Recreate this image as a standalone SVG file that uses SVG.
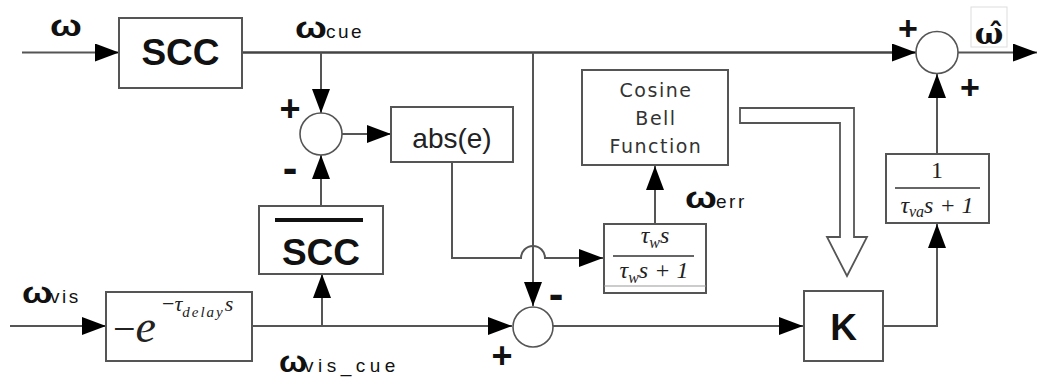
<svg xmlns="http://www.w3.org/2000/svg" width="1037" height="379" viewBox="0 0 1037 379">
<defs>
<marker id="ah" markerUnits="userSpaceOnUse" markerWidth="24" markerHeight="18" refX="24" refY="9" orient="auto">
<path d="M0,0 L24,9 L0,18 Z" fill="#000"/>
</marker>
</defs>
<style>
.box{fill:#fff;stroke:#555;stroke-width:2}
.ln{fill:none;stroke:#555;stroke-width:2}
.main{fill:none;stroke:#444;stroke-width:2.6}
.sum{fill:#fff;stroke:#555;stroke-width:1.6}
.big{font-family:"Liberation Sans",Arial,sans-serif;font-weight:bold;font-size:37px;fill:#111}
.om{font-family:"Liberation Sans",Arial,sans-serif;font-weight:bold;font-size:29px;fill:#111}
.sub{font-family:"Liberation Sans",Arial,sans-serif;font-size:19px;fill:#111;letter-spacing:2.5px}
.sg{font-family:"Liberation Sans",Arial,sans-serif;font-weight:bold;fill:#111;text-anchor:middle}
.math{font-family:"Liberation Serif","Times New Roman",serif;font-style:italic;fill:#222}
.mr{font-family:"Liberation Serif","Times New Roman",serif;fill:#222}
.cb{font-family:"DejaVu Sans",Verdana,sans-serif;font-size:19px;fill:#333;text-anchor:middle;letter-spacing:1.5px}
</style>

<g id="connectors">
<line class="ln" x1="22" y1="52.5" x2="119" y2="52.5" marker-end="url(#ah)"/>
<line class="main" x1="242" y1="52.5" x2="916" y2="52.5" marker-end="url(#ah)"/>
<line class="ln" x1="958" y1="52.5" x2="1037" y2="52.5" marker-end="url(#ah)"/>
<line class="ln" x1="321" y1="52.5" x2="321" y2="113" marker-end="url(#ah)"/>
<line class="ln" x1="321" y1="206" x2="321" y2="155" marker-end="url(#ah)"/>
<line class="ln" x1="342" y1="134" x2="391" y2="134" marker-end="url(#ah)"/>
<line class="ln" x1="10" y1="326" x2="106" y2="326" marker-end="url(#ah)"/>
<line class="ln" x1="252" y1="326" x2="512" y2="326" marker-end="url(#ah)"/>
<line class="ln" x1="322" y1="326" x2="322" y2="274" marker-end="url(#ah)"/>
<line class="ln" x1="533" y1="52.5" x2="533" y2="306" marker-end="url(#ah)"/>
<path class="ln" d="M452,162 V258 H521 A12,12 0 0 1 545,258 H603" marker-end="url(#ah)"/>
<line class="ln" x1="655" y1="224" x2="655" y2="166" marker-end="url(#ah)"/>
<line class="ln" x1="553" y1="326" x2="803" y2="326" marker-end="url(#ah)"/>
<path class="ln" d="M883,326 H937 V224" marker-end="url(#ah)"/>
<line class="ln" x1="937" y1="154" x2="937" y2="74" marker-end="url(#ah)"/>
<path d="M740,108 H854 V237 H867 L847,276 L827,237 H840 V123 H740 Z" fill="#fff" stroke="#555" stroke-width="1.8"/>
</g>

<g id="scc">
<rect class="box" x="119" y="18" width="123" height="70"/>
<text class="big" x="180.5" y="65" text-anchor="middle">SCC</text>
</g>

<g id="sum1">
<circle class="sum" cx="321" cy="134" r="21"/>
<text class="sg" x="290" y="121" font-size="36">+</text>
<text class="sg" x="290" y="183" font-size="44">-</text>
</g>

<g id="abs">
<rect class="box" x="391" y="107" width="122" height="55"/>
<text x="452" y="148" text-anchor="middle" font-family="'Liberation Sans',Arial,sans-serif" font-size="28" fill="#222">abs(e)</text>
</g>

<g id="sccbar">
<rect class="box" x="259" y="206" width="124" height="68"/>
<line x1="275" y1="220" x2="363" y2="220" stroke="#111" stroke-width="4"/>
<text class="big" x="321" y="265" text-anchor="middle">SCC</text>
</g>

<g id="delay">
<rect class="box" x="106" y="292" width="146" height="69"/>
<text class="mr" x="113" y="342" font-size="40">−<tspan class="math" font-size="46">e</tspan></text>
<text class="mr" x="162" y="311" font-size="22">−<tspan class="math">τ</tspan><tspan class="math" font-size="15" style="letter-spacing:2px" dy="6">delay</tspan><tspan class="math" dy="-6">s</tspan></text>
</g>

<g id="sum2">
<circle class="sum" cx="533" cy="327" r="20"/>
<text class="sg" x="556" y="309" font-size="44">-</text>
<text class="sg" x="502" y="368" font-size="36">+</text>
</g>

<g id="cosine">
<rect class="box" x="582" y="70" width="146" height="95"/>
<text class="cb" x="656" y="97">Cosine</text>
<text class="cb" x="656" y="125">Bell</text>
<text class="cb" x="656" y="153">Function</text>
</g>

<g id="hpf">
<rect class="box" x="604" y="224" width="102" height="69"/>
<line x1="604" y1="286" x2="706" y2="286" stroke="#999" stroke-width="1"/>
<line x1="613" y1="256" x2="694" y2="256" stroke="#333" stroke-width="1.5"/>
<text class="math" x="655" y="243" font-size="24" text-anchor="middle">τ<tspan font-size="16" dy="5">w</tspan><tspan dy="-5">s</tspan></text>
<text class="math" x="654" y="278" font-size="24" text-anchor="middle">τ<tspan font-size="16" dy="5">w</tspan><tspan dy="-5">s</tspan><tspan class="mr"> + 1</tspan></text>
</g>

<g id="k">
<rect class="box" x="804" y="291" width="79" height="70"/>
<text class="big" x="843.5" y="340" text-anchor="middle">K</text>
</g>

<g id="lpf">
<rect class="box" x="886" y="154" width="103" height="69"/>
<line x1="895" y1="188" x2="980" y2="188" stroke="#333" stroke-width="1.5"/>
<text class="mr" x="937" y="178" font-size="24" text-anchor="middle">1</text>
<text class="math" x="937" y="213" font-size="24" text-anchor="middle">τ<tspan font-size="16" dy="4">va</tspan><tspan dy="-4">s</tspan><tspan class="mr"> + 1</tspan></text>
</g>

<g id="sum3">
<circle class="sum" cx="937" cy="52.5" r="21"/>
<text class="sg" x="908" y="40" font-size="34">+</text>
<text class="sg" x="970" y="99" font-size="34">+</text>
</g>

<g id="labels">
<text class="om" transform="translate(50,36) scale(1.3,1)">ω</text>
<text class="om" transform="translate(295,38) scale(1.3,1)">ω</text>
<text class="sub" x="326" y="38">cue</text>
<text class="om" transform="translate(22,303) scale(1.25,1)">ω</text>
<text class="sub" x="50" y="303">vis</text>
<text class="om" transform="translate(279,372) scale(1.15,1)">ω</text>
<text class="sub" x="304" y="372" style="letter-spacing:4.5px">vis_cue</text>
<text class="om" transform="translate(685,208) scale(1.3,1)">ω</text>
<text class="sub" x="716" y="208">err</text>
<rect x="971" y="7" width="36" height="40" fill="none" stroke="#ddd" stroke-width="1"/>
<text x="989" y="44" text-anchor="middle" font-family="'DejaVu Serif',serif" font-weight="bold" font-size="30" fill="#111">ω̂</text>
</g>
</svg>
